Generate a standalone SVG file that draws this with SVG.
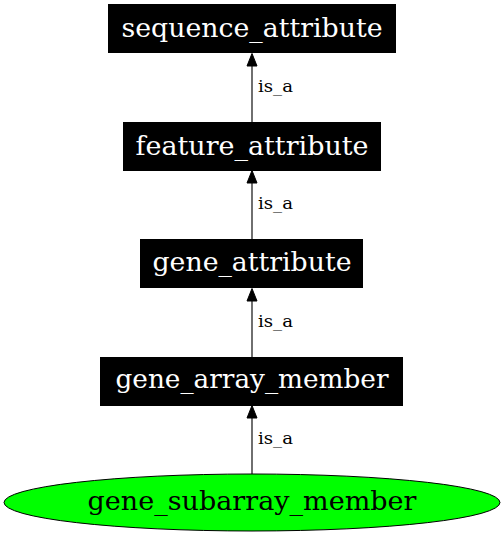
<svg xmlns="http://www.w3.org/2000/svg" width="504" height="536" viewBox="0 0 504 536">
<style>
.box{fill:#000;stroke:#000;stroke-width:1}
.nt{font-family:"DejaVu Serif",serif;font-size:26px;fill:#fff;text-anchor:middle}
.et{font-family:"DejaVu Serif",serif;font-size:17px;fill:#000}
.edge{stroke:#333;stroke-width:1.4;fill:none}
.ah{fill:#000;stroke:#000;stroke-width:1}
</style>
<rect width="504" height="536" fill="#fff"/>
<g id="edges">
<line class="edge" x1="252" y1="122" x2="252" y2="66"/>
<polygon class="ah" points="247,66 252,53.5 257,66"/>
<text class="et" x="258" y="92" textLength="35" lengthAdjust="spacingAndGlyphs">is_a</text>
<line class="edge" x1="252" y1="239" x2="252" y2="183"/>
<polygon class="ah" points="247,183 252,170.5 257,183"/>
<text class="et" x="258" y="209" textLength="35" lengthAdjust="spacingAndGlyphs">is_a</text>
<line class="edge" x1="252" y1="357" x2="252" y2="301"/>
<polygon class="ah" points="247,301 252,288.5 257,301"/>
<text class="et" x="258" y="327" textLength="35" lengthAdjust="spacingAndGlyphs">is_a</text>
<line class="edge" x1="252" y1="474" x2="252" y2="418"/>
<polygon class="ah" points="247,418 252,405.5 257,418"/>
<text class="et" x="258" y="444" textLength="35" lengthAdjust="spacingAndGlyphs">is_a</text>
</g>
<g id="sequence_attribute">
<rect class="box" x="108.5" y="4.5" width="287" height="48"/>
<text class="nt" x="252" y="37" textLength="261" lengthAdjust="spacingAndGlyphs">sequence_attribute</text>
</g>
<g id="feature_attribute">
<rect class="box" x="123.5" y="122.5" width="257" height="48"/>
<text class="nt" x="252" y="155" textLength="233" lengthAdjust="spacingAndGlyphs">feature_attribute</text>
</g>
<g id="gene_attribute">
<rect class="box" x="140.5" y="239.5" width="222" height="48"/>
<text class="nt" x="252" y="271" textLength="199" lengthAdjust="spacingAndGlyphs">gene_attribute</text>
</g>
<g id="gene_array_member">
<rect class="box" x="100.5" y="357.5" width="302" height="48"/>
<text class="nt" x="252" y="388" textLength="273" lengthAdjust="spacingAndGlyphs">gene_array_member</text>
</g>
<g id="gene_subarray_member">
<ellipse cx="252" cy="502.5" rx="248" ry="28.5" fill="#00ff00" stroke="#000" stroke-width="1"/>
<text x="252" y="510" textLength="329" lengthAdjust="spacingAndGlyphs" style="font-family:'DejaVu Serif',serif;font-size:26px;fill:#000;text-anchor:middle">gene_subarray_member</text>
</g>
</svg>
